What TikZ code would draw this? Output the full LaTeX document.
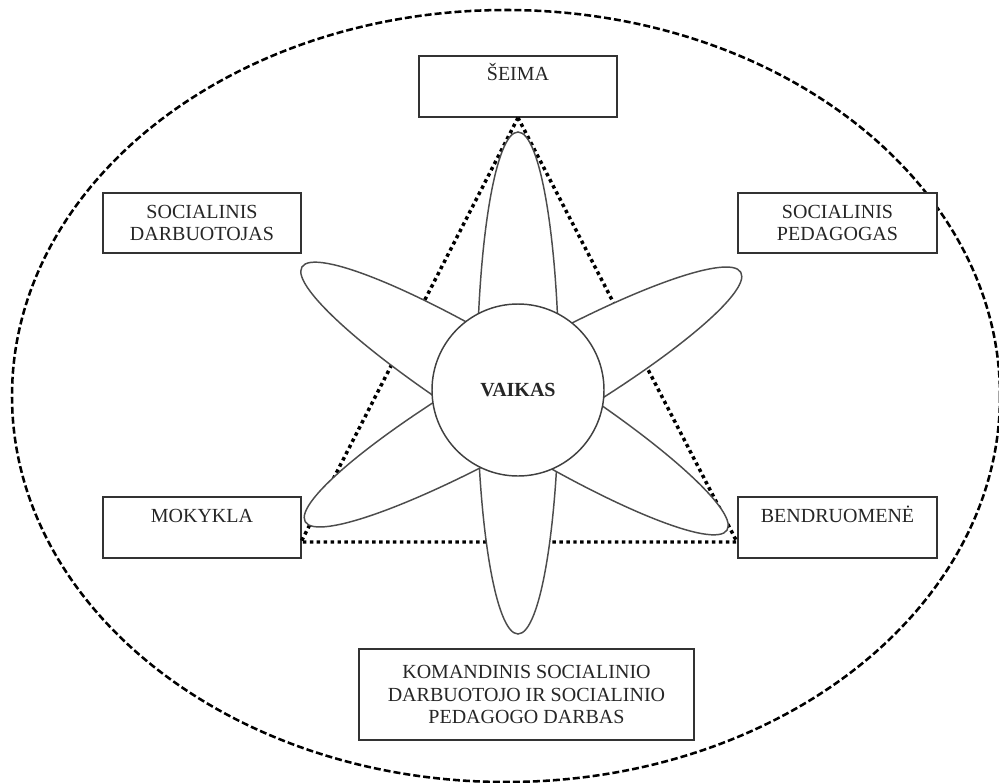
\documentclass[tikz,border=0pt]{standalone}
\usepackage{fontspec}
\setmainfont{Liberation Serif}
\begin{document}
\begin{tikzpicture}[x=0.75pt,y=-0.75pt,
  box/.style={draw=black!80, line width=1.1pt, fill=white, inner sep=0pt,
    minimum width=148.5pt, text=black!85, font=\fontsize{15}{17}\selectfont, align=center},
  petal/.style={draw=black!70, line width=1.1pt, fill=white},
  ring/.style={draw=black, line width=1.9pt, dash pattern=on 5.2pt off 2.3pt},
  tri/.style={draw=black, line width=2.6pt, dash pattern=on 2.6pt off 2.6pt}]
\useasboundingbox (0,0) rectangle (999,782);
\fill[white] (0,0) rectangle (999,782);
\draw[ring] (506,396) ellipse [x radius=494, y radius=386];
% boxes
\node[box, text height=18pt, text depth=27.75pt, anchor=base] (seima) at (518,80) {ŠEIMA};
\node[box, minimum height=45pt] (sd) at (202,223) {SOCIALINIS\\DARBUOTOJAS};
\node[box, minimum width=149.25pt, minimum height=45pt] (sp) at (837.5,223) {SOCIALINIS\\PEDAGOGAS};
\node[box, text height=18.75pt, text depth=27pt, anchor=base] (mok) at (202,522) {MOKYKLA};
\node[box, minimum width=149.25pt, text height=18.75pt, text depth=27pt, anchor=base] (ben) at (837.5,522) {BENDRUOMENĖ};
\node[box, minimum width=251.25pt, minimum height=68.25pt] (kom) at (526.5,694.5) {KOMANDINIS SOCIALINIO\\DARBUOTOJO IR SOCIALINIO\\PEDAGOGO DARBAS};
% triangle
\coordinate (tl) at (301,542);
\coordinate (tr) at (737,542);
\draw[tri] (seima.south) -- (tl) -- (tr) -- cycle;
% petals
\draw[petal] (518,383) ellipse [x radius=41, y radius=251];
\draw[petal, rotate around={-31.75:(514.5,398.5)}] (514.5,398.5) ellipse [x radius=250, y radius=42];
\draw[petal, rotate around={29.8:(523,397)}] (523,397) ellipse [x radius=251, y radius=42];
% centre
\node[draw=black!75, line width=1.1pt, fill=white, circle, minimum size=129pt, inner sep=0pt,
  text=black!85, font=\bfseries\fontsize{15}{18}\selectfont] (vaikas) at (518,390) {VAIKAS};
\end{tikzpicture}
\end{document}
